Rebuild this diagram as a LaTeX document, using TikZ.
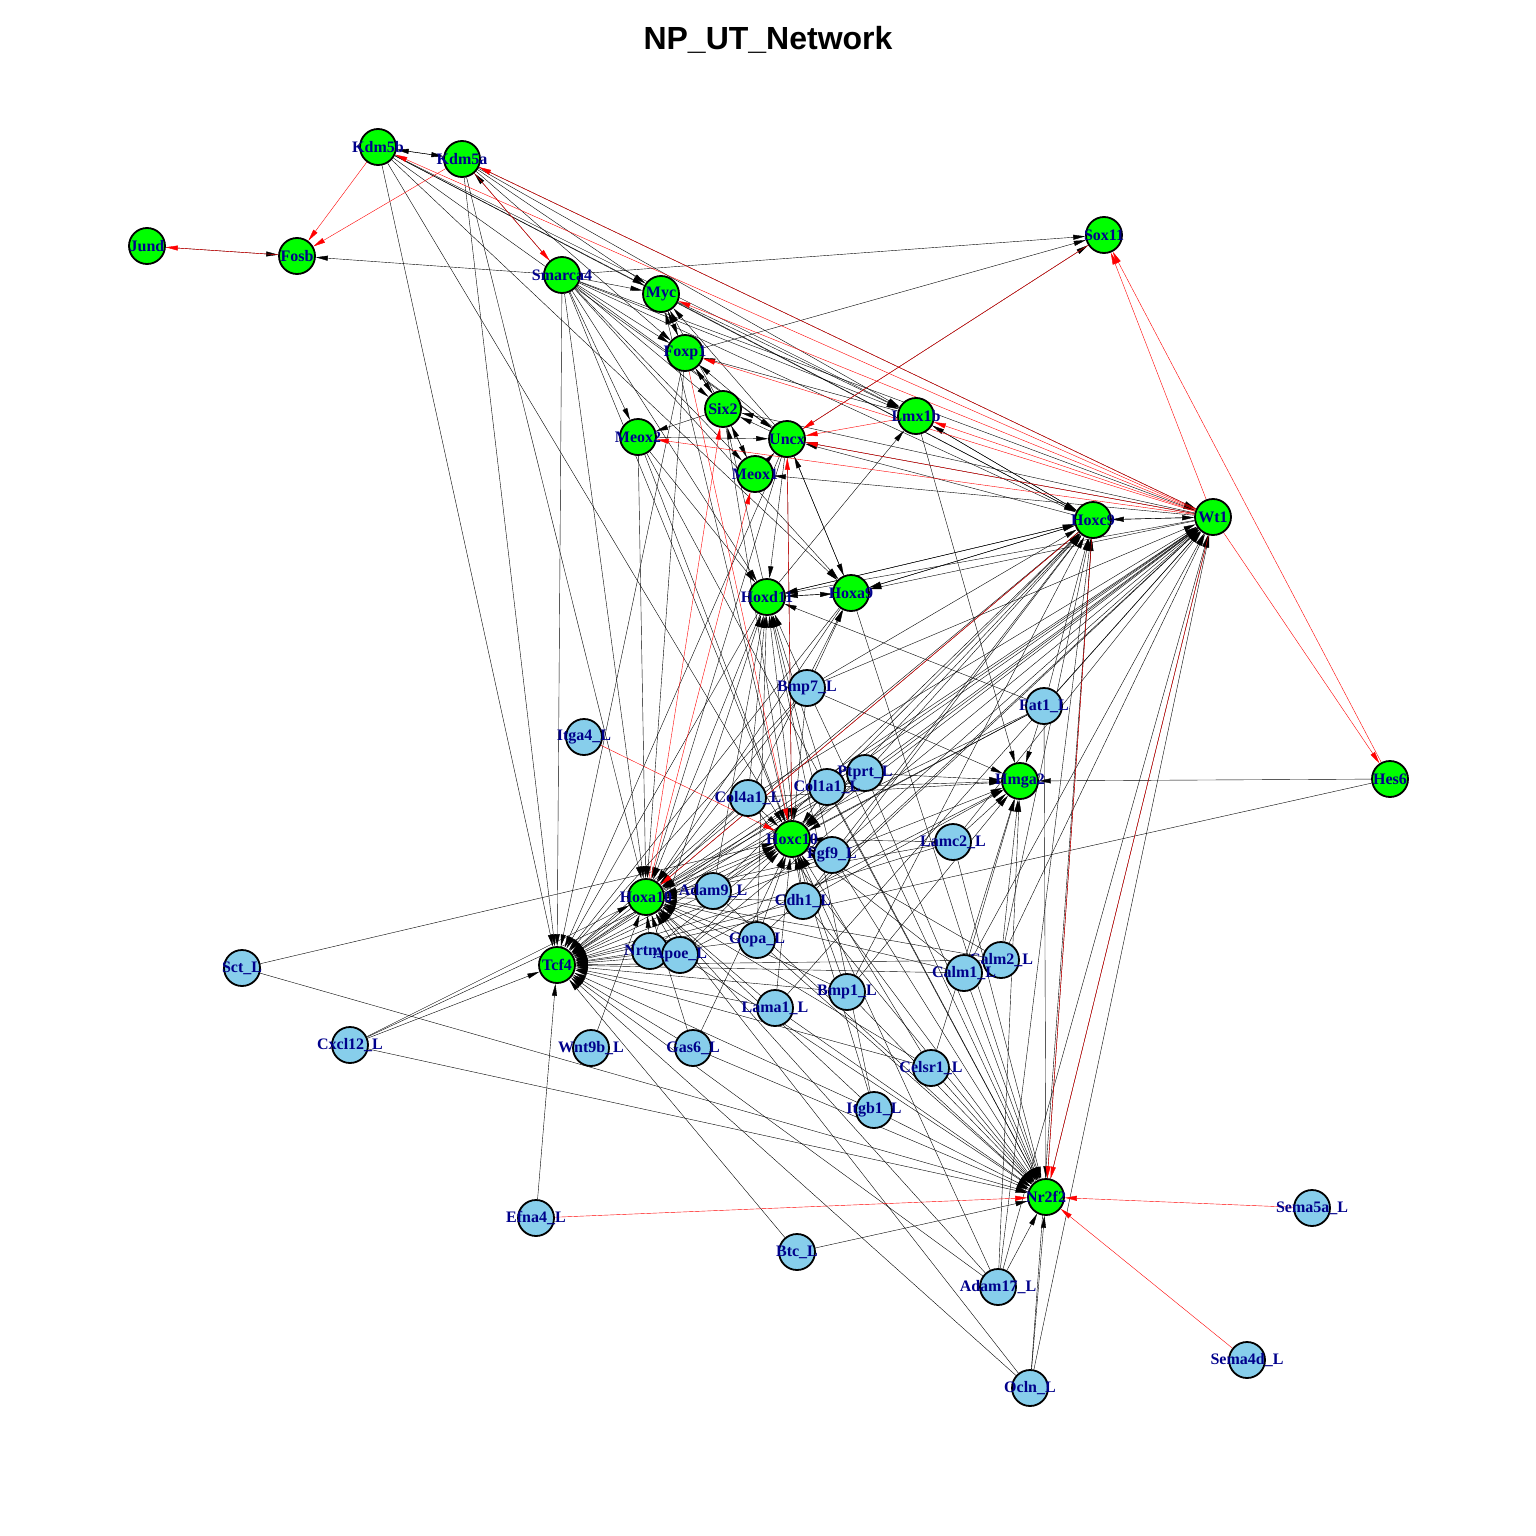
\documentclass[tikz,border=0pt]{standalone}
\usepackage{fontspec}
\usetikzlibrary{arrows.meta,backgrounds}
\newfontfamily\lblfont{Liberation Serif}
\newfontfamily\ttlfont{Liberation Sans}
\definecolor{gfill}{RGB}{0,255,0}
\definecolor{lfill}{RGB}{135,206,235}
\definecolor{lblblue}{RGB}{0,0,139}
\tikzset{
  tf/.style={circle,draw,line width=1.8pt,fill=gfill,minimum size=36pt,inner sep=0pt},
  lig/.style={tf,fill=lfill},
  lbl/.style={font=\lblfont\bfseries\fontsize{16}{16}\selectfont,text=lblblue,inner sep=0pt},
  act/.style={-{Triangle[length=12pt,width=5pt]},line width=0.4pt},
  rep/.style={act,red},
}
\begin{document}
\begin{tikzpicture}[x=1pt,y=-1pt]
\useasboundingbox (0,0) rectangle (1536,1536);
\node[font=\ttlfont\bfseries\fontsize{32}{32}\selectfont] (title) at (768,40) {NP\_UT\_Network};

\node[tf,label={[lbl]center:Kdm5b}] (Kdm5b) at (378,147) {};
\node[tf,label={[lbl]center:Kdm5a}] (Kdm5a) at (462,159) {};
\node[tf,label={[lbl]center:Jund}] (Jund) at (147,246) {};
\node[tf,label={[lbl]center:Fosb}] (Fosb) at (297,256) {};
\node[tf,label={[lbl]center:Sox11}] (Sox11) at (1104,235) {};
\node[tf,label={[lbl]center:Smarca4}] (Smarca4) at (562,275) {};
\node[tf,label={[lbl]center:Myc}] (Myc) at (661,294) {};
\node[tf,label={[lbl]center:Foxp1}] (Foxp1) at (685,353) {};
\node[tf,label={[lbl]center:Six2}] (Six2) at (723,409) {};
\node[tf,label={[lbl]center:Lmx1b}] (Lmx1b) at (916,416) {};
\node[tf,label={[lbl]center:Meox2}] (Meox2) at (638,437) {};
\node[tf,label={[lbl]center:Uncx}] (Uncx) at (787,439) {};
\node[tf,label={[lbl]center:Meox1}] (Meox1) at (755,474) {};
\node[tf,label={[lbl]center:Hoxc9}] (Hoxc9) at (1093,520) {};
\node[tf,label={[lbl]center:Wt1}] (Wt1) at (1213,517) {};
\node[tf,label={[lbl]center:Hoxd11}] (Hoxd11) at (767,597) {};
\node[tf,label={[lbl]center:Hoxa9}] (Hoxa9) at (851,593) {};
\node[tf,label={[lbl]center:Hmga2}] (Hmga2) at (1020,781) {};
\node[tf,label={[lbl]center:Hes6}] (Hes6) at (1390,779) {};
\node[tf,label={[lbl]center:Hoxc10}] (Hoxc10) at (792,839) {};
\node[tf,label={[lbl]center:Hoxa10}] (Hoxa10) at (646,897) {};
\node[tf,label={[lbl]center:Tcf4}] (Tcf4) at (557,965) {};
\node[tf,label={[lbl]center:Nr2f2}] (Nr2f2) at (1046,1197) {};

\node[lig,label={[lbl]center:Bmp7\_L}] (Bmp7L) at (807,688) {};
\node[lig,label={[lbl]center:Fat1\_L}] (Fat1L) at (1044,706) {};
\node[lig,label={[lbl]center:Itga4\_L}] (Itga4L) at (584,737) {};
\node[lig,label={[lbl]center:Ptprt\_L}] (PtprtL) at (865,773) {};
\node[lig,label={[lbl]center:Col1a1\_L}] (Col1a1L) at (827,787) {};
\node[lig,label={[lbl]center:Col4a1\_L}] (Col4a1L) at (748,798) {};
\node[lig,label={[lbl]center:Fgf9\_L}] (Fgf9L) at (832,855) {};
\node[lig,label={[lbl]center:Lamc2\_L}] (Lamc2L) at (953,842) {};
\node[lig,label={[lbl]center:Adam9\_L}] (Adam9L) at (713,891) {};
\node[lig,label={[lbl]center:Cdh1\_L}] (Cdh1L) at (803,901) {};
\node[lig,label={[lbl]center:Gopa\_L}] (GopaL) at (757,940) {};
\node[lig,label={[lbl]center:Nrtn\_L}] (NrtnL) at (650,951) {};
\node[lig,label={[lbl]center:Apoe\_L}] (ApoeL) at (680,955) {};
\node[lig,label={[lbl]center:Sct\_L}] (SctL) at (242,968) {};
\node[lig,label={[lbl]center:Calm2\_L}] (Calm2L) at (1001,960) {};
\node[lig,label={[lbl]center:Calm1\_L}] (Calm1L) at (964,973) {};
\node[lig,label={[lbl]center:Bmp1\_L}] (Bmp1L) at (847,992) {};
\node[lig,label={[lbl]center:Lama1\_L}] (Lama1L) at (775,1008) {};
\node[lig,label={[lbl]center:Cxcl12\_L}] (Cxcl12L) at (350,1045) {};
\node[lig,label={[lbl]center:Wnt9b\_L}] (Wnt9bL) at (591,1048) {};
\node[lig,label={[lbl]center:Gas6\_L}] (Gas6L) at (693,1048) {};
\node[lig,label={[lbl]center:Celsr1\_L}] (Celsr1L) at (931,1068) {};
\node[lig,label={[lbl]center:Itgb1\_L}] (Itgb1L) at (874,1110) {};
\node[lig,label={[lbl]center:Sema5a\_L}] (Sema5aL) at (1312,1208) {};
\node[lig,label={[lbl]center:Efna4\_L}] (Efna4L) at (536,1218) {};
\node[lig,label={[lbl]center:Btc\_L}] (BtcL) at (797,1252) {};
\node[lig,label={[lbl]center:Adam17\_L}] (Adam17L) at (998,1287) {};
\node[lig,label={[lbl]center:Sema4d\_L}] (Sema4dL) at (1247,1360) {};
\node[lig,label={[lbl]center:Ocln\_L}] (OclnL) at (1030,1388) {};

\begin{pgfonlayer}{background}
% ligands
\foreach \t in {Hoxd11,Hoxa9,Hoxa10,Hoxc10,Tcf4,Nr2f2,Wt1,Hoxc9,Hmga2} \draw[act] (Bmp7L) -- (\t);
\foreach \t in {Hoxc9,Wt1,Hmga2,Hoxa10,Hoxc10,Tcf4,Hoxd11,Nr2f2} \draw[act] (Fat1L) -- (\t);
\foreach \t in {Hmga2,Hoxc10,Hoxa10,Wt1,Hoxc9,Nr2f2,Tcf4} \draw[act] (PtprtL) -- (\t);
\foreach \t in {Hmga2,Hoxc10,Hoxa10,Wt1,Hoxc9,Hoxd11,Tcf4,Nr2f2} \draw[act] (Col1a1L) -- (\t);
\foreach \t in {Hoxc10,Hoxa10,Tcf4,Wt1,Hoxd11,Hoxa9,Nr2f2,Hmga2} \draw[act] (Col4a1L) -- (\t);
\foreach \t in {Hoxc10,Hoxa10,Tcf4,Wt1,Hoxc9,Nr2f2,Hmga2,Hoxd11} \draw[act] (Fgf9L) -- (\t);
\foreach \t in {Hoxc10,Hmga2,Hoxa10,Wt1,Nr2f2,Tcf4} \draw[act] (Lamc2L) -- (\t);
\foreach \t in {Hoxa10,Hoxc10,Tcf4,Wt1,Hoxc9,Nr2f2,Hoxd11} \draw[act] (Adam9L) -- (\t);
\foreach \t in {Hoxc10,Hoxa10,Tcf4,Wt1,Hoxc9,Hoxd11,Nr2f2,Hmga2} \draw[act] (Cdh1L) -- (\t);
\foreach \t in {Hoxa10,Hoxc10,Tcf4,Wt1,Nr2f2,Hoxd11} \draw[act] (GopaL) -- (\t);
\foreach \t in {Hoxa10,Hoxc10,Tcf4,Hoxd11} \draw[act] (NrtnL) -- (\t);
\foreach \t in {Hoxa10,Hoxc10,Tcf4,Nr2f2,Wt1,Hmga2} \draw[act] (ApoeL) -- (\t);
\foreach \t in {Hoxc10,Nr2f2} \draw[act] (SctL) -- (\t);
\foreach \t in {Tcf4,Hoxa10,Hoxc10,Nr2f2} \draw[act] (Cxcl12L) -- (\t);
\foreach \t in {Hoxa10} \draw[act] (Wnt9bL) -- (\t);
\foreach \t in {Hoxc10,Hoxa10,Tcf4,Nr2f2} \draw[act] (Gas6L) -- (\t);
\foreach \t in {Tcf4,Nr2f2} \draw[act] (BtcL) -- (\t);
\foreach \t in {Hoxc10,Hoxa10,Tcf4,Nr2f2,Wt1} \draw[act] (Lama1L) -- (\t);
\foreach \t in {Hoxc10,Hoxa10,Tcf4,Nr2f2,Hmga2,Hoxc9} \draw[act] (Bmp1L) -- (\t);
\foreach \t in {Hoxa10,Tcf4,Hoxc10,Hmga2,Wt1,Nr2f2} \draw[act] (Calm1L) -- (\t);
\foreach \t in {Hoxa10,Tcf4,Hoxc10,Hmga2,Wt1,Hoxc9} \draw[act] (Calm2L) -- (\t);
\foreach \t in {Tcf4,Hoxa10,Hoxc10,Hmga2,Nr2f2} \draw[act] (Celsr1L) -- (\t);
\foreach \t in {Tcf4,Hoxa10,Hoxc10,Hoxd11,Nr2f2} \draw[act] (Itgb1L) -- (\t);
\foreach \t in {Nr2f2,Tcf4,Hoxa10,Hoxc10,Hmga2,Wt1,Hoxc9} \draw[act] (Adam17L) -- (\t);
\foreach \t in {Nr2f2,Tcf4,Hoxa10,Wt1,Hoxc9} \draw[act] (OclnL) -- (\t);
\draw[act] (Efna4L) -- (Tcf4);
\draw[rep] (Efna4L) -- (Nr2f2);
\draw[rep] (Itga4L) -- (Hoxc10);
\draw[rep] (Sema5aL) -- (Nr2f2);
\draw[rep] (Sema4dL) -- (Nr2f2);
% regulators
\foreach \t in {Myc,Foxp1,Six2,Uncx,Meox2,Meox1,Hoxd11,Hoxa9,Hoxa10,Tcf4,Lmx1b,Hoxc9,Sox11,Hoxc10,Wt1,Fosb,Kdm5a} \draw[act] (Smarca4) -- (\t);
\foreach \t in {Kdm5a,Tcf4,Hoxc10,Hoxa9,Uncx,Lmx1b,Myc,Hoxc9} \draw[act] (Kdm5b) -- (\t);
\foreach \t in {Kdm5b,Tcf4,Myc,Foxp1,Lmx1b,Wt1,Hoxa10} \draw[act] (Kdm5a) -- (\t);
\foreach \t in {Hoxc9,Hoxd11,Hoxa9,Hoxa10,Hoxc10,Tcf4,Six2,Uncx,Meox1} \draw[act] (Wt1) -- (\t);
\foreach \t in {Wt1,Hoxa9,Hoxd11,Uncx,Hoxa10,Hoxc10,Tcf4,Lmx1b} \draw[act] (Hoxc9) -- (\t);
\foreach \t in {Hoxa9,Hoxc9,Hoxa10,Tcf4,Lmx1b,Six2} \draw[act] (Hoxd11) -- (\t);
\foreach \t in {Hoxd11,Hoxc9,Hoxa10,Tcf4,Nr2f2,Uncx} \draw[act] (Hoxa9) -- (\t);
\foreach \t in {Six2,Foxp1,Hoxd11,Hoxa9,Hoxc10,Hoxa10,Tcf4,Sox11,Myc} \draw[act] (Uncx) -- (\t);
\foreach \t in {Meox2,Foxp1,Meox1,Hoxc10,Myc} \draw[act] (Six2) -- (\t);
\foreach \t in {Uncx,Hoxd11,Hoxa10,Hoxc10,Nr2f2} \draw[act] (Meox2) -- (\t);
\foreach \t in {Uncx,Six2} \draw[act] (Meox1) -- (\t);
\foreach \t in {Myc,Six2,Sox11,Tcf4,Hoxa10} \draw[act] (Foxp1) -- (\t);
\foreach \t in {Foxp1,Lmx1b,Hoxc9} \draw[act] (Myc) -- (\t);
\foreach \t in {Foxp1,Hmga2,Hoxc9} \draw[act] (Lmx1b) -- (\t);
\foreach \t in {Hmga2,Tcf4} \draw[act] (Hes6) -- (\t);
\foreach \t in {Tcf4,Hoxc10} \draw[act] (Hoxa10) -- (\t);
\foreach \t in {Wt1,Hoxc9} \draw[act] (Nr2f2) -- (\t);
\draw[act] (Jund) -- (Fosb);
\draw[act] (Hoxc10) -- (Myc);
\foreach \s/\t in {Kdm5b/Fosb,Kdm5a/Fosb,Fosb/Jund,Kdm5a/Smarca4,Wt1/Kdm5a,Wt1/Kdm5b,Wt1/Myc,Wt1/Foxp1,Wt1/Lmx1b,Wt1/Uncx,Wt1/Meox2,Lmx1b/Uncx,Wt1/Sox11,Wt1/Hes6,Hes6/Sox11,Sox11/Uncx,Foxp1/Hoxc10,Hoxa10/Six2,Hoxa10/Meox1,Hoxc10/Uncx,Wt1/Nr2f2,Hoxc9/Nr2f2,Hoxc9/Hoxa10}
  \draw[rep] (\s) -- (\t);
\end{pgfonlayer}
\end{tikzpicture}
\end{document}
